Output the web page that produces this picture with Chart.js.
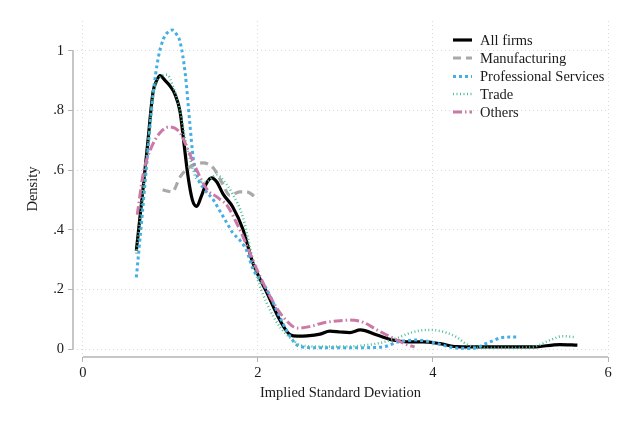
<!DOCTYPE html>
<html>
<head>
<meta charset="utf-8">
<script src="https://cdn.jsdelivr.net/npm/chart.js@4.4.1/dist/chart.umd.min.js"></script>
<style>
  body { margin: 0; background: #fff; }
  canvas { display: block; }
</style>
</head>
<body>
<canvas id="chart" width="626" height="421"></canvas>
<script>
// kernel density estimates
var allX = [0.61, 0.68, 0.74, 0.80, 0.85, 0.88, 0.94, 1.00, 1.05, 1.11, 1.15, 1.20, 1.25, 1.30, 1.35, 1.41, 1.47, 1.53, 1.60, 1.71, 1.83, 1.94, 2.10, 2.25, 2.37, 2.45, 2.56, 2.71, 2.82, 2.94, 3.05, 3.17, 3.36, 3.54, 3.70, 3.89, 4.08, 4.27, 4.57, 5.14, 5.45, 5.65];
var allY = [0.33, 0.52, 0.69, 0.86, 0.905, 0.917, 0.90, 0.88, 0.855, 0.795, 0.70, 0.58, 0.50, 0.478, 0.51, 0.555, 0.574, 0.56, 0.52, 0.477, 0.40, 0.29, 0.19, 0.097, 0.047, 0.043, 0.044, 0.05, 0.06, 0.057, 0.055, 0.064, 0.047, 0.03, 0.024, 0.024, 0.018, 0.008, 0.007, 0.007, 0.015, 0.013];

var manX = [0.91, 0.96, 1.02, 1.11, 1.22, 1.37, 1.49, 1.59, 1.68, 1.79, 1.87, 1.97];
var manY = [0.534, 0.53, 0.527, 0.577, 0.61, 0.624, 0.607, 0.557, 0.515, 0.527, 0.527, 0.51];

var proX = [0.61, 0.68, 0.74, 0.80, 0.86, 0.92, 0.98, 1.02, 1.07, 1.11, 1.17, 1.22, 1.26, 1.31, 1.39, 1.49, 1.57, 1.65, 1.71, 1.79, 1.87, 1.94, 2.10, 2.25, 2.37, 2.48, 2.70, 3.00, 3.30, 3.45, 3.59, 3.82, 3.97, 4.11, 4.27, 4.45, 4.62, 4.77, 4.88, 4.97];
var proY = [0.24, 0.46, 0.66, 0.85, 0.976, 1.04, 1.065, 1.07, 1.055, 1.03, 0.92, 0.76, 0.64, 0.575, 0.535, 0.50, 0.46, 0.42, 0.39, 0.366, 0.33, 0.27, 0.20, 0.107, 0.04, 0.008, 0.004, 0.004, 0.005, 0.008, 0.023, 0.03, 0.024, 0.013, 0.003, 0.002, 0.02, 0.037, 0.04, 0.04];

var traX = [0.61, 0.68, 0.74, 0.80, 0.88, 0.96, 1.03, 1.11, 1.17, 1.23, 1.30, 1.40, 1.53, 1.57, 1.71, 1.83, 1.91, 1.99, 2.10, 2.25, 2.40, 2.48, 2.70, 3.00, 3.20, 3.39, 3.59, 3.75, 3.93, 4.05, 4.16, 4.27, 4.39, 4.55, 4.80, 5.14, 5.34, 5.48, 5.62];
var traY = [0.32, 0.51, 0.68, 0.85, 0.91, 0.92, 0.88, 0.80, 0.70, 0.63, 0.57, 0.56, 0.584, 0.577, 0.52, 0.44, 0.34, 0.24, 0.154, 0.074, 0.03, 0.013, 0.008, 0.008, 0.012, 0.02, 0.037, 0.055, 0.064, 0.062, 0.054, 0.04, 0.015, 0.004, 0.004, 0.007, 0.03, 0.043, 0.04];

var othX = [0.62, 0.69, 0.77, 0.88, 0.99, 1.11, 1.20, 1.30, 1.42, 1.53, 1.65, 1.76, 1.83, 1.99, 2.14, 2.29, 2.45, 2.59, 2.75, 2.90, 3.05, 3.20, 3.36, 3.54, 3.70, 3.79];
var othY = [0.45, 0.59, 0.668, 0.725, 0.745, 0.725, 0.668, 0.60, 0.534, 0.51, 0.48, 0.42, 0.376, 0.265, 0.175, 0.107, 0.07, 0.075, 0.088, 0.094, 0.097, 0.09, 0.064, 0.037, 0.015, 0.007];

var seriesNames = ['All firms', 'Manufacturing', 'Professional Services', 'Trade', 'Others'];
var xTicks = [0, 2, 4, 6];
var yTicks = [0, 0.2, 0.4, 0.6, 0.8, 1];
var yTickLabels = ['0', '.2', '.4', '.6', '.8', '1'];

function pts(xs, ys) {
  return xs.map(function(x, i) { return { x: x, y: ys[i] }; });
}

var serif = "'Liberation Serif', 'Times New Roman', serif";
var fs = 14.5;

var styles = [
  { color: '#000000', width: 3.2, dash: [] },
  { color: '#a9a9a9', width: 3.2, dash: [8, 5] },
  { color: '#45aee6', width: 3, dash: [3, 3] },
  { color: '#4cc09a', width: 2.5, dash: [1, 2.5] },
  { color: '#cc79a7', width: 3, dash: [9, 3, 1.5, 3] }
];

var pointSets = [pts(allX, allY), pts(manX, manY), pts(proX, proY), pts(traX, traY), pts(othX, othY)];

var datasets = seriesNames.map(function(name, i) {
  return {
    label: name,
    data: pointSets[i],
    borderColor: styles[i].color,
    borderWidth: styles[i].width,
    borderDash: styles[i].dash,
    pointRadius: 0,
    fill: false,
    tension: 0.4,
    cubicInterpolationMode: 'monotone',
    order: 5 - i
  };
});

// Stata-like partial axis lines plus legend inside the plot
var stataBits = {
  id: 'stataBits',
  afterDraw: function(chart) {
    var ctx = chart.ctx, x = chart.scales.x, y = chart.scales.y, a = chart.chartArea;
    ctx.save();
    ctx.strokeStyle = '#b4b4b4';
    ctx.lineWidth = 1.5;
    ctx.setLineDash([]);
    ctx.beginPath();
    ctx.moveTo(a.left, y.getPixelForValue(0));
    ctx.lineTo(a.left, y.getPixelForValue(1));
    ctx.moveTo(x.getPixelForValue(0), a.bottom);
    ctx.lineTo(x.getPixelForValue(6), a.bottom);
    ctx.stroke();

    ctx.font = fs + 'px ' + serif;
    ctx.textBaseline = 'middle';
    ctx.textAlign = 'left';
    var rows = [40, 58, 76.5, 94, 112];
    seriesNames.forEach(function(name, i) {
      ctx.strokeStyle = styles[i].color;
      ctx.lineWidth = styles[i].width;
      ctx.setLineDash(styles[i].dash);
      ctx.beginPath();
      ctx.moveTo(453, rows[i]);
      ctx.lineTo(472, rows[i]);
      ctx.stroke();
      ctx.fillStyle = '#1a1a1a';
      ctx.fillText(name, 480, rows[i] + 1);
    });
    ctx.restore();
  }
};

new Chart(document.getElementById('chart'), {
  type: 'line',
  data: { datasets: datasets },
  options: {
    responsive: false,
    animation: false,
    events: [],
    layout: { padding: { left: 0, right: 18, top: 21, bottom: 0 } },
    plugins: {
      legend: { display: false },
      tooltip: { enabled: false }
    },
    scales: {
      x: {
        type: 'linear',
        min: -0.114,
        max: 6,
        afterFit: function(s) { s.height = 64; },
        afterBuildTicks: function(s) { s.ticks = xTicks.map(function(v) { return { value: v }; }); },
        grid: { color: '#d8d8d8', tickColor: '#b4b4b4', tickLength: 5, tickWidth: 1 },
        border: { display: false, dash: [1, 3] },
        ticks: {
          color: '#1a1a1a',
          font: { family: serif, size: fs },
          maxRotation: 0,
          padding: 2
        },
        title: {
          display: true,
          text: 'Implied Standard Deviation',
          color: '#1a1a1a',
          font: { family: serif, size: fs },
          padding: { top: 4, bottom: 19 }
        }
      },
      y: {
        type: 'linear',
        min: -0.0268,
        max: 1.1,
        afterFit: function(s) { s.width = 73; },
        afterBuildTicks: function(s) { s.ticks = yTicks.map(function(v) { return { value: v }; }); },
        grid: { color: '#d8d8d8', tickColor: '#b4b4b4', tickLength: 5, tickWidth: 1 },
        border: { display: false, dash: [1, 3] },
        ticks: {
          color: '#1a1a1a',
          font: { family: serif, size: fs },
          padding: 4,
          callback: function(v) {
            var k = yTicks.indexOf(v);
            return k >= 0 ? yTickLabels[k] : '';
          }
        },
        title: {
          display: true,
          text: 'Density',
          color: '#1a1a1a',
          font: { family: serif, size: fs },
          padding: { top: 24, bottom: 4 }
        }
      }
    }
  },
  plugins: [stataBits]
});
</script>
</body>
</html>
